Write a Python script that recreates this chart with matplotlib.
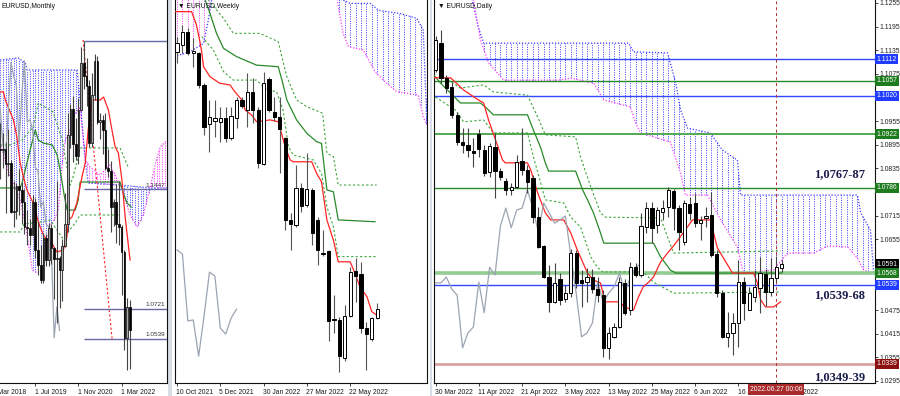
import numpy as np
import matplotlib
matplotlib.use('Agg')
import matplotlib.pyplot as plt
from matplotlib.patches import Rectangle

plt.rcParams['font.family'] = ['Liberation Sans', 'DejaVu Sans']

# ======================= MONTHLY (Jun 2018 .. Jun 2022) =======================
m_open = [1.1693,1.1684,1.1690,1.1600,1.1604,1.1311,1.1314,1.1467,1.1444,1.1372,1.1217,1.1214,1.1169,1.1371,1.1078,1.0989,1.0899,1.1152,1.1017,1.1213,1.1093,1.1026,1.1030,1.0955,1.1100,1.1234,1.1778,1.1936,1.1721,1.1646,1.1926,1.2216,1.2136,1.2075,1.1729,1.2019,1.2227,1.1857,1.1869,1.1808,1.1579,1.1558,1.1338,1.1370,1.1235,1.1219,1.1067,1.0545,1.0733]
m_high = [1.1852,1.1791,1.1734,1.1815,1.1625,1.1500,1.1486,1.1570,1.1489,1.1448,1.1324,1.1265,1.1412,1.1393,1.1250,1.1110,1.1179,1.1176,1.1240,1.1239,1.1096,1.1495,1.1040,1.1147,1.1422,1.1909,1.1966,1.2011,1.1881,1.2001,1.2310,1.2349,1.2243,1.2113,1.2150,1.2266,1.2254,1.1909,1.1900,1.1909,1.1692,1.1616,1.1386,1.1482,1.1495,1.1233,1.1076,1.0787,1.0774]
m_low = [1.1510,1.1575,1.1301,1.1526,1.1302,1.1216,1.1269,1.1289,1.1234,1.1176,1.1110,1.1107,1.1168,1.1028,1.0927,1.0879,1.0879,1.0981,1.0981,1.0992,1.0778,1.0636,1.0727,1.0767,1.1096,1.1185,1.1696,1.1612,1.1622,1.1603,1.1925,1.2053,1.1952,1.1704,1.1704,1.1986,1.1845,1.1752,1.1664,1.1563,1.1524,1.1186,1.1222,1.1121,1.1107,1.0806,1.0471,1.0349,1.0359]
m_close = [1.1684,1.1690,1.1600,1.1604,1.1311,1.1314,1.1467,1.1444,1.1372,1.1217,1.1214,1.1169,1.1371,1.1078,1.0989,1.0899,1.1152,1.1017,1.1213,1.1093,1.1026,1.1030,1.0955,1.1100,1.1234,1.1778,1.1936,1.1721,1.1646,1.1926,1.2216,1.2136,1.2075,1.1729,1.2019,1.2227,1.1857,1.1869,1.1808,1.1579,1.1558,1.1338,1.1370,1.1235,1.1219,1.1067,1.0545,1.0733,1.0591]
m_dates = ['1 Mar 2018', '1 Jul 2019', '1 Nov 2020', '1 Mar 2022']
m_date_idx = [-3, 13, 29, 45]

m_tenkan_x = [0.0,1.2,1.9,4.9,6.2,7.4,8.6,9.9,11.7,13.0,13.6,14.8,16.0,17.3,18.5,21.0,23.4,24.7,25.3,26.6,28.4,30.3,31.5,32.6,34.0,37.0,38.3,40.1,41.4,42.6,43.8,45.1,46.3,48.1]
m_tenkan_y = [1.2038,1.2038,1.1989,1.1868,1.1764,1.1607,1.1522,1.1443,1.1382,1.1340,1.1279,1.1218,1.1170,1.1139,1.1139,1.1066,1.1079,1.1157,1.1261,1.1279,1.1364,1.1522,1.1607,1.1807,1.1989,1.1989,1.2007,1.1928,1.1807,1.1704,1.1667,1.1503,1.1279,1.1018]
m_kijun_x = [0,7.4,8.1,11.1,13.0,14.1,15.9,19.3,21.1,22.2,23.7,24.8,27.8,28.9,29.6,44.4,45.6,47.0,48.5]
m_kijun_y = [1.1455,1.1455,1.1485,1.1686,1.1807,1.1746,1.1728,1.1716,1.1655,1.1564,1.1412,1.1321,1.1321,1.1382,1.1491,1.1491,1.1424,1.1364,1.1340]
m_dash1_x = [0,3.7,8.1,12.2,14.1,19.6,23.0,25.9,27.0,28.9,29.6,44.4,47.4]
m_dash1_y = [1.1716,1.1716,1.1746,1.1825,1.1971,1.1916,1.1746,1.1473,1.1522,1.1643,1.1698,1.1698,1.1582]
m_dash2_x = [0,7.4,8.9,14.8,18.5,21.5,23.0,24.8,27.8,29.6,44.4]
m_dash2_y = [1.1188,1.1188,1.1236,1.1248,1.1261,1.1188,1.1151,1.1182,1.1242,1.1291,1.1291]
m_spanB_x = [0,6.7,9.3,10.0,28.5,29.6,31.5,32.6,44.4,55.6,61.9]
m_spanB_y = [1.2232,1.2244,1.2214,1.2171,1.2171,1.1989,1.1625,1.1485,1.1473,1.1455,1.1455]
m_spanA_x = [0,1.1,3.7,7.4,9.3,11.9,13.7,15.6,18.5,19.6,21.5,23.0,24.1,25.9,27.0,29.6,31.5,33.3,37.0,40.7,44.4,46.3,48.1,50.7,53.0,54.4,55.6,57.4,59.3,61.9]
m_spanA_y = [1.1728,1.1667,1.1522,1.1382,1.1242,1.0957,1.0939,1.0957,1.1242,1.1248,1.1321,1.1607,1.1746,1.1807,1.1886,1.1947,1.1625,1.1582,1.1534,1.1594,1.1473,1.1382,1.1291,1.1218,1.1291,1.1382,1.1461,1.1594,1.1704,1.1746]
m_trend_x = [30.7, 41.5]
m_trend_y = [1.2353, 1.0532]
m_levels = [1.2349, 1.1447, 1.0721, 1.0539]
m_level_labels = ['', '1.1447', '1.0721', '1.0539']

# ======================= WEEKLY (10 Oct 2021 .. 26 Jun 2022) =======================
w_open = [1.1588,1.1615,1.1665,1.1584,1.1584,1.1460,1.1309,1.1321,1.1317,1.1332,1.1255,1.1332,1.1402,1.1363,1.1433,1.1363,1.1154,1.1483,1.1356,1.1336,1.1255,1.0938,1.0918,1.1061,1.0996,1.1054,1.0938,1.0810,1.0818,1.0554,1.0551,1.0403,1.0566,1.0740,1.0729,1.0520,1.0477,1.0558]
w_high = [1.1646,1.1692,1.1681,1.1642,1.1588,1.1468,1.1402,1.1402,1.1375,1.1375,1.1375,1.1414,1.1414,1.1506,1.1487,1.1375,1.1510,1.1491,1.1414,1.1414,1.1259,1.0965,1.1150,1.1081,1.1197,1.1061,1.0949,1.0899,1.0822,1.0647,1.0562,1.0609,1.0756,1.0791,1.0775,1.0543,1.0562,1.0616]
w_low = [1.1545,1.1584,1.1576,1.1530,1.1448,1.1267,1.1201,1.1259,1.1239,1.1239,1.1247,1.1294,1.1371,1.1298,1.1313,1.1139,1.1150,1.1356,1.1321,1.1119,1.0899,1.0822,1.0910,1.0969,1.0988,1.0841,1.0763,1.0798,1.0469,1.0500,1.0349,1.0392,1.0562,1.0620,1.0500,1.0357,1.0469,1.0554]
w_close = [1.1623,1.1665,1.1584,1.1592,1.1460,1.1298,1.1336,1.1332,1.1332,1.1255,1.1340,1.1402,1.1379,1.1433,1.1363,1.1158,1.1468,1.1363,1.1336,1.1290,1.0938,1.0922,1.1061,1.0992,1.1058,1.0887,1.0822,1.0806,1.0547,1.0551,1.0411,1.0566,1.0736,1.0721,1.0520,1.0496,1.0558,1.0593]
w_dates = ['10 Oct 2021', '5 Dec 2021', '30 Jan 2022', '27 Mar 2022', '22 May 2022']
w_date_idx = [0, 8, 16, 24, 32]

w_tenkan_x = [-0.4,2.7,3.6,4.3,4.6,4.9,6.1,7.9,9.8,10.7,12.0,12.6,13.8,14.7,17.2,18.7,20.0,20.9,21.5,24.9,25.8,26.7,27.7,28.9,29.8,32.0,32.9,33.8,35.1,36.0,36.9]
w_tenkan_y = [1.1744,1.1744,1.1692,1.1621,1.1583,1.1531,1.1492,1.1467,1.1460,1.1434,1.1402,1.1363,1.1344,1.1318,1.1325,1.1318,1.1221,1.1170,1.1163,1.1163,1.1118,1.1086,1.0938,1.0860,1.0776,1.0776,1.0731,1.0679,1.0641,1.0583,1.0570]
w_kijun_x = [4.5,5.2,6.1,7.3,8.6,11.0,14.7,18.7,19.4,20.3,22.1,24.0,25.8,26.7,27.7,28.9,29.8,36.6]
w_kijun_y = [1.1900,1.1789,1.1737,1.1660,1.1602,1.1570,1.1537,1.1531,1.1479,1.1402,1.1325,1.1273,1.1241,1.1234,1.1054,1.1047,1.0938,1.0931]
w_dash1_x = [5.0,5.8,8.6,10.4,15.3,18.7,20.3,22.1,24.0,26.9,27.7,28.9,29.8,36.9]
w_dash1_y = [1.1900,1.1789,1.1718,1.1660,1.1660,1.1628,1.1492,1.1402,1.1376,1.1351,1.1196,1.1183,1.1073,1.1073]
w_dash2_x = [4.6,6.7,8.6,10.4,14.7,16.6,18.4,19.6,20.6,21.5,25.2,26.7,27.7,28.9,29.8,36.9]
w_dash2_y = [1.1647,1.1596,1.1512,1.1479,1.1479,1.1441,1.1434,1.1363,1.1221,1.1189,1.1170,1.1118,1.0989,1.0912,1.0796,1.0796]
w_spanB_x = [29.5,32.0,35.7,37.2,38.8,41.2,44.3,45.5,46.2]
w_spanB_y = [1.1800,1.1776,1.1776,1.1750,1.1744,1.1737,1.1718,1.1673,1.1305]
w_spanA_x = [29.5,30.7,31.7,34.4,36.6,38.1,40.6,44.6,45.5,46.2]
w_spanA_y = [1.1800,1.1660,1.1608,1.1596,1.1512,1.1479,1.1434,1.1421,1.1337,1.1305]
w_old_spanB_x = [-0.5,2.4,4.9,5.8,6.4,6.8]
w_old_spanB_y = [1.1570,1.1589,1.1621,1.1712,1.1789,1.1900]
w_old_spanA_x = [-0.5,6.8]
w_old_spanA_y = [1.1900,1.1900]

# ======================= DAILY (30 Mar 2022 .. 28 Jun 2022) =======================
d_open = [1.1085,1.1153,1.1065,1.1042,1.0971,1.0902,1.0894,1.0879,1.0922,1.0882,1.0826,1.0889,1.0828,1.0803,1.0780,1.0788,1.0854,1.0831,1.0810,1.0711,1.0638,1.0559,1.0496,1.0554,1.0504,1.0518,1.0620,1.0551,1.0546,1.0559,1.0528,1.0513,1.0379,1.0407,1.0432,1.0544,1.0475,1.0584,1.0564,1.0686,1.0734,1.0691,1.0724,1.0737,1.0778,1.0734,1.0648,1.0744,1.0747,1.0696,1.0709,1.0717,1.0617,1.0518,1.0407,1.0417,1.0442,1.0546,1.0475,1.0508,1.0531,1.0567,1.0521,1.0557,1.0582]
d_high = [1.1171,1.1186,1.1072,1.1054,1.0978,1.0938,1.0938,1.0912,1.0935,1.0894,1.0899,1.0925,1.0836,1.0810,1.0798,1.0869,1.0938,1.0843,1.0818,1.0737,1.0640,1.0590,1.0595,1.0569,1.0539,1.0630,1.0628,1.0577,1.0582,1.0579,1.0559,1.0526,1.0432,1.0442,1.0559,1.0554,1.0597,1.0595,1.0722,1.0750,1.0750,1.0737,1.0755,1.0788,1.0783,1.0742,1.0755,1.0762,1.0772,1.0714,1.0737,1.0775,1.0628,1.0526,1.0470,1.0468,1.0602,1.0559,1.0534,1.0577,1.0610,1.0579,1.0607,1.0612,1.0602]
d_low = [1.1080,1.1052,1.1026,1.0963,1.0894,1.0874,1.0864,1.0838,1.0864,1.0816,1.0813,1.0760,1.0805,1.0767,1.0767,1.0785,1.0818,1.0772,1.0696,1.0633,1.0557,1.0470,1.0493,1.0488,1.0496,1.0508,1.0531,1.0483,1.0496,1.0518,1.0496,1.0356,1.0351,1.0404,1.0430,1.0463,1.0463,1.0559,1.0559,1.0671,1.0645,1.0671,1.0704,1.0711,1.0679,1.0628,1.0640,1.0704,1.0686,1.0653,1.0686,1.0610,1.0508,1.0404,1.0381,1.0361,1.0381,1.0450,1.0475,1.0496,1.0468,1.0485,1.0511,1.0546,1.0572]
d_close = [1.1161,1.1065,1.1039,1.0971,1.0902,1.0894,1.0882,1.0874,1.0884,1.0823,1.0892,1.0828,1.0813,1.0780,1.0788,1.0851,1.0831,1.0800,1.0711,1.0635,1.0559,1.0496,1.0544,1.0501,1.0518,1.0620,1.0544,1.0544,1.0559,1.0528,1.0513,1.0379,1.0417,1.0432,1.0546,1.0468,1.0584,1.0564,1.0689,1.0734,1.0684,1.0729,1.0734,1.0780,1.0734,1.0673,1.0747,1.0722,1.0696,1.0704,1.0714,1.0615,1.0518,1.0407,1.0417,1.0442,1.0546,1.0493,1.0518,1.0534,1.0569,1.0521,1.0557,1.0584,1.0592]
d_dates = ['30 Mar 2022','11 Apr 2022','21 Apr 2022','3 May 2022','13 May 2022','25 May 2022','6 Jun 2022','16 Jun 2022','28 Jun 2022']
d_date_idx = [0, 8, 16, 24, 32, 40, 48, 56, 64]
d_cursor_idx = 63
d_cursor_label = '2022.06.27 00:00'

d_tenkan_x = [-0.9,2.8,5.2,7.9,8.9,9.8,11.1,12.4,12.9,17.0,17.6,18.9,20.3,21.3,23.7,25.0,26.2,28.1,29.2,30.5,31.1,31.4,34.2,34.8,36.6,37.5,38.4,39.4,40.3,41.6,42.9,44.4,47.5,50.8,52.1,54.9,58.8,59.5,60.1,61.0,62.5,63.8]
d_tenkan_y = [1.1065,1.1065,1.1034,1.1009,1.1001,1.0958,1.0907,1.0856,1.0849,1.0849,1.0831,1.0772,1.0722,1.0704,1.0704,1.0671,1.0628,1.0569,1.0551,1.0544,1.0508,1.0496,1.0496,1.0483,1.0475,1.0508,1.0534,1.0546,1.0559,1.0597,1.0620,1.0645,1.0704,1.0704,1.0633,1.0569,1.0569,1.0544,1.0501,1.0483,1.0483,1.0496]
d_kijun_x = [-0.5,0.9,4.6,8.3,9.2,10.7,17.0,18.1,19.4,20.3,20.9,25.9,27.2,28.1,29.2,30.5,31.1,40.3,41.6,43.4,44.4,64.0]
d_kijun_y = [1.1075,1.1052,1.1001,1.1001,1.0991,1.0971,1.0971,1.0932,1.0889,1.0849,1.0828,1.0828,1.0780,1.0755,1.0722,1.0671,1.0645,1.0645,1.0610,1.0577,1.0569,1.0569]
d_dash1_x = [0.9,4.6,8.9,10.7,17.0,18.9,20.3,25.9,26.8,28.7,30.5,31.4,41.6,44.0,63.8]
d_dash1_y = [1.1072,1.1039,1.1047,1.1029,1.1021,1.0965,1.0920,1.0915,1.0864,1.0788,1.0722,1.0711,1.0709,1.0620,1.0625]
d_dash2_x = [0,3.7,5.2,8.9,10.7,17.0,18.1,19.4,20.3,23.7,25.0,26.8,28.7,29.9,30.9,38.4,40.3,44.0,63.8]
d_dash2_y = [1.1016,1.0983,1.0953,1.0958,1.0925,1.0925,1.0864,1.0800,1.0755,1.0747,1.0711,1.0686,1.0610,1.0584,1.0572,1.0572,1.0546,1.0518,1.0521]
d_spanB_x = [4.0,6.8,7.9,8.9,35.7,36.6,42.9,44.4,45.3,46.6,50.8,53.0,55.8,56.4,78.0,78.6,80.4,81.0]
d_spanB_y = [1.1380,1.1263,1.1194,1.1153,1.1153,1.1131,1.1128,1.1052,1.0983,1.0937,1.0925,1.0882,1.0856,1.0767,1.0767,1.0722,1.0678,1.0569]
d_spanA_x = [4.0,7.0,8.3,9.8,12.6,22.6,25.0,29.2,31.1,36.0,37.0,37.9,43.4,45.3,46.2,50.3,52.7,55.8,56.9,62.5,65.1,69.9,72.5,76.2,78.0,79.1,81.0]
d_spanA_y = [1.1380,1.1263,1.1161,1.1103,1.1059,1.1059,1.1064,1.1052,1.1009,1.0991,1.0950,1.0925,1.0902,1.0823,1.0767,1.0767,1.0704,1.0635,1.0569,1.0577,1.0620,1.0620,1.0638,1.0635,1.0607,1.0577,1.0569]
d_levels = [1.1112, 1.1057, 1.1020, 1.0922, 1.0786, 1.0568, 1.0539, 1.0339]
d_level_colors = ['#3347ff', '#2a8a2a', '#3347ff', '#52a852', '#2a8a2a', '#93cc93', '#3347ff', '#d9a3a3']
d_level_widths = [1.0, 1.0, 1.0, 1.4, 1.0, 2.6, 1.0, 2.0]
d_tag_prices = [1.1112, 1.1057, 1.1020, 1.0922, 1.0786, 1.0591, 1.0568, 1.0539, 1.0339]
d_tag_colors = ['#1f3cff', '#1d7a1d', '#1f3cff', '#1d7a1d', '#1d7a1d', '#000000', '#1d7a1d', '#1f3cff', '#8b1010']
d_zone_texts = ['1,0767-87', '1,0539-68', '1,0349-39']
d_zone_prices = [1.0821, 1.0513, 1.0305]
d_zone_idx = 79.4

# ======================= drawing helpers =======================
BLUE = '#3b3bff'
MAG = '#ff3cff'
RED = '#ff2424'
GREEN = '#2a8a2a'
DGREEN = '#3aa63a'
CHIKOU = '#9ba5b2'
DOTS = (0, (1, 1.4))


def draw_candles(ax, o, h, l, c, width, up_face, lw_edge, wick_color='#333333'):
    o, h, l, c = map(np.asarray, (o, h, l, c))
    x = np.arange(len(o))
    ax.vlines(x, l, h, colors=wick_color, linewidth=0.8, zorder=4)
    up = c >= o
    bottoms = np.minimum(o, c)
    heights = np.maximum(np.abs(c - o), 0.00004)
    ax.bar(x[up], heights[up], width, bottom=bottoms[up], facecolor=up_face,
           edgecolor='black', linewidth=lw_edge, zorder=5)
    ax.bar(x[~up], heights[~up], width, bottom=bottoms[~up], facecolor='black',
           edgecolor='black', linewidth=lw_edge, zorder=5)


def draw_cloud(ax, xa, ya, xb, yb, lw=0.7):
    ks = np.arange(np.ceil(max(xa[0], xb[0])), np.floor(min(xa[-1], xb[-1])) + 1)
    a = np.interp(ks, xa, ya)
    b = np.interp(ks, xb, yb)
    blue = b >= a
    ax.vlines(ks[blue], a[blue], b[blue], colors=BLUE, linestyles=[DOTS], linewidth=lw, zorder=2)
    ax.vlines(ks[~blue], b[~blue], a[~blue], colors=MAG, linestyles=[DOTS], linewidth=lw, zorder=2)
    ax.plot(xb, yb, color=BLUE, ls=DOTS, lw=0.9, zorder=2)
    ax.plot(xa, ya, color=MAG, ls=DOTS, lw=0.9, zorder=2)


def date_labels(ax, idx, labels, xlim):
    trans = ax.get_xaxis_transform()
    vis = [i for i in idx if xlim[0] <= i <= xlim[1]]
    ax.set_xticks(vis)
    ax.set_xticklabels([''] * len(vis))
    ax.tick_params(axis='x', length=2.5, width=0.6, color='#222222')
    for i, t in zip(idx, labels):
        ax.text(i - 0.15, -0.016, t, transform=trans, ha='left', va='top',
                fontsize=4.9, color='#1a1a1a', clip_on=False)


def style_axes(ax, left=True):
    for s in ax.spines.values():
        s.set_linewidth(0.8)
        s.set_color('#111111')
    ax.spines['top'].set_visible(False)
    ax.spines['left'].set_visible(left)
    ax.set_yticks([])
    ax.set_facecolor('white')


W, H = 900, 396
fig = plt.figure(figsize=(9, 3.96), dpi=100, facecolor='#d9dee6')
for x0, x1 in [(0, 168), (172, 430), (432, 900)]:
    fig.add_artist(Rectangle((x0 / W, 0), (x1 - x0) / W, 1, transform=fig.transFigure,
                             facecolor='white', edgecolor='none', zorder=-5))

bot = 13 / H
hgt = 383 / H
ax1 = fig.add_axes([0 / W, bot, 167 / W, hgt])
ax2 = fig.add_axes([175 / W, bot, (427 - 175) / W, hgt])
ax3 = fig.add_axes([434 / W, bot, (875 - 434) / W, hgt])

# ----------------------------- Monthly -----------------------------
m_xlim = (-0.07, 61.8)
draw_cloud(ax1, m_spanA_x, m_spanA_y, m_spanB_x, m_spanB_y, lw=0.7)
ax1.plot(m_dash1_x, m_dash1_y, color=DGREEN, ls=(0, (2, 2)), lw=0.8, zorder=3)
ax1.plot(m_dash2_x, m_dash2_y, color=DGREEN, ls=(0, (2, 2)), lw=0.8, zorder=3)
ax1.plot(m_kijun_x, m_kijun_y, color=GREEN, lw=0.9, zorder=3)
ax1.plot(m_tenkan_x, m_tenkan_y, color=RED, lw=0.9, zorder=3)
ax1.plot(m_trend_x, m_trend_y, color=RED, ls=(0, (2, 2)), lw=0.8, zorder=3)
mc = np.asarray(m_close)
ax1.plot(np.arange(len(mc) - 26), mc[26:], color=CHIKOU, lw=0.9, zorder=3)
ax1.hlines(m_levels, 31, m_xlim[1], colors='#6a6aa6', lw=1.0, zorder=3)
for p, t in zip(m_levels, m_level_labels):
    if t:
        ax1.text(m_xlim[1] - 0.6, p + 0.0009, t, ha='right', va='bottom', fontsize=4.6,
                 color='#333333', zorder=6)
draw_candles(ax1, m_open, m_high, m_low, m_close, 0.62, '#a8a8a8', 0.5, wick_color='#444444')
ax1.set_xlim(*m_xlim)
ax1.set_ylim(1.0271, 1.2596)
style_axes(ax1, left=False)
date_labels(ax1, m_date_idx, m_dates, m_xlim)
ax1.text(0.01, 0.992, 'EURUSD,Monthly', transform=ax1.transAxes, ha='left', va='top',
         fontsize=4.9, color='#111111', zorder=8)

# ----------------------------- Weekly -----------------------------
w_xlim = (-0.37, 46.2)
draw_cloud(ax2, w_spanA_x, w_spanA_y, w_spanB_x, w_spanB_y, lw=0.7)
draw_cloud(ax2, w_old_spanA_x, w_old_spanA_y, w_old_spanB_x, w_old_spanB_y, lw=0.7)
ax2.plot(w_dash1_x, w_dash1_y, color=DGREEN, ls=(0, (2, 2)), lw=0.8, zorder=3)
ax2.plot(w_dash2_x, w_dash2_y, color=DGREEN, ls=(0, (2, 2)), lw=0.8, zorder=3)
ax2.plot(w_kijun_x, w_kijun_y, color=GREEN, lw=0.9, zorder=3)
ax2.plot(w_tenkan_x, w_tenkan_y, color=RED, lw=0.9, zorder=3)
wc = np.asarray(w_close)
ax2.plot(np.arange(len(wc) - 26), wc[26:], color=CHIKOU, lw=0.9, zorder=3)
draw_candles(ax2, w_open, w_high, w_low, w_close, 0.6, 'white', 0.7, wick_color='#555555')
ax2.set_xlim(*w_xlim)
ax2.set_ylim(1.0307, 1.1789)
style_axes(ax2)
date_labels(ax2, w_date_idx, w_dates, w_xlim)
ax2.text(0.012, 0.992, '\u25BC EURUSD,Weekly', transform=ax2.transAxes, ha='left', va='top',
         fontsize=4.9, color='#111111', zorder=8)

# ----------------------------- Daily -----------------------------
d_xlim = (-0.28, 81.24)
d_ylim = (1.02898, 1.12626)
draw_cloud(ax3, d_spanA_x, d_spanA_y, d_spanB_x, d_spanB_y, lw=0.7)
for p, col, lw in zip(d_levels, d_level_colors, d_level_widths):
    ax3.axhline(p, color=col, lw=lw, zorder=2.5)
ax3.plot(d_dash1_x, d_dash1_y, color=DGREEN, ls=(0, (2, 2)), lw=0.8, zorder=3)
ax3.plot(d_dash2_x, d_dash2_y, color=DGREEN, ls=(0, (2, 2)), lw=0.8, zorder=3)
ax3.plot(d_kijun_x, d_kijun_y, color=GREEN, lw=0.9, zorder=3)
ax3.plot(d_tenkan_x, d_tenkan_y, color=RED, lw=0.9, zorder=3)
dc = np.asarray(d_close)
ax3.plot(np.arange(len(dc) - 26), dc[26:], color=CHIKOU, lw=0.9, zorder=3)
ax3.axvline(d_cursor_idx, color='#b03030', ls=(0, (3, 3)), lw=0.7, zorder=3.5)
draw_candles(ax3, d_open, d_high, d_low, d_close, 0.6, 'white', 0.7, wick_color='#444444')
ax3.set_xlim(*d_xlim)
ax3.set_ylim(*d_ylim)
style_axes(ax3)
date_labels(ax3, d_date_idx, d_dates, d_xlim)

yt = np.round(np.arange(1.0295, 1.12551, 0.006), 4)
ax3.yaxis.tick_right()
ax3.set_yticks(yt)
# scale labels that sit under a coloured price tag are hidden by the tag
ylabels = [('' if min(abs(v - t) for t in d_tag_prices) < 0.0013 else f'{v:.4f}') for v in yt]
ax3.set_yticklabels(ylabels)
ax3.tick_params(axis='y', length=2, width=0.6, labelsize=4.9, pad=1.5, colors='#222222')

ytrans = ax3.get_yaxis_transform()
for p, col in zip(d_tag_prices, d_tag_colors):
    ax3.text(1.004, p, f'{p:.4f}', transform=ytrans, ha='left', va='center', fontsize=4.9,
             color='white', zorder=10, clip_on=False,
             bbox=dict(boxstyle='square,pad=0.22', facecolor=col, edgecolor='none'))

for t, p in zip(d_zone_texts, d_zone_prices):
    ax3.text(d_zone_idx, p, t, ha='right', va='center', fontsize=9, fontweight='bold',
             family='Liberation Serif', color='#1b1b4d', zorder=9)

ax3.text(d_cursor_idx, -0.008, d_cursor_label, transform=ax3.get_xaxis_transform(),
         ha='center', va='top', fontsize=4.9, color='white', zorder=10, clip_on=False,
         bbox=dict(boxstyle='square,pad=0.25', facecolor='#a82a2a', edgecolor='none'))
ax3.text(0.008, 0.992, '\u25BC EURUSD,Daily', transform=ax3.transAxes, ha='left', va='top',
         fontsize=4.9, color='#111111', zorder=8)

fig.savefig('out.png', dpi=100, facecolor=fig.get_facecolor())
